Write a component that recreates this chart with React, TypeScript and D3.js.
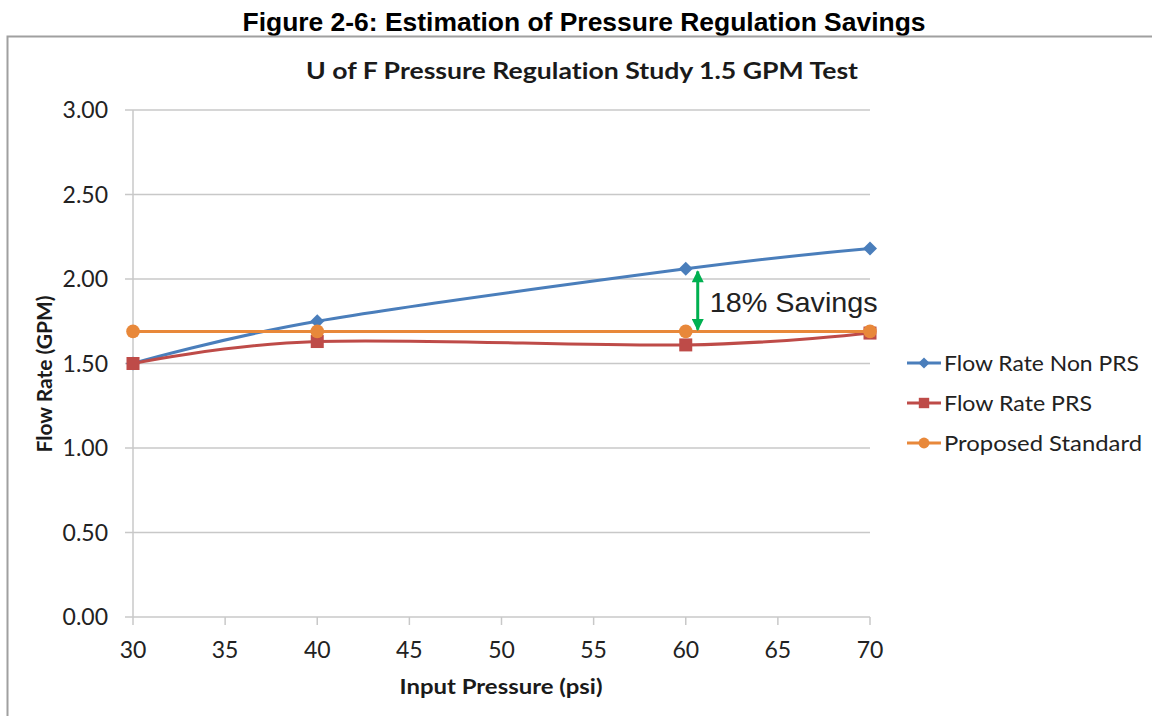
import React from "react";
import * as d3 from "d3";

const pressures = [30, 40, 60, 70];
const flowNonPRS = [1.5, 1.75, 2.06, 2.18];
const flowPRS = [1.5, 1.63, 1.61, 1.68];
const proposedStandard = [1.69, 1.69, 1.69, 1.69];
const seriesNames = ["Flow Rate Non PRS", "Flow Rate PRS", "Proposed Standard"];
const seriesColors = ["#4A7EBB", "#BE4B48", "#E8883A"];
const xTicks = [30, 35, 40, 45, 50, 55, 60, 65, 70];
const yTicks = [0, 0.5, 1, 1.5, 2, 2.5, 3];
const savingsArrow = { x: 60.65, from: 2.045, to: 1.7, label: "18% Savings" };

const W = 1152;
const H = 716;
const left = 133;
const right = 870;
const top = 110;
const bottom = 617;
const calibri = "Lato, 'Open Sans', sans-serif";
const legendWidths = [195, 148, 198];

export default function App() {
  const x = d3.scaleLinear().domain([30, 70]).range([left, right]);
  const y = d3.scaleLinear().domain([0, 3]).range([bottom, top]);
  const line = d3
    .line<number>()
    .x((_, i) => x(pressures[i]))
    .y((d) => y(d))
    .curve(d3.curveCardinal.tension(0));

  const data = [flowNonPRS, flowPRS, proposedStandard];

  const marker = (k: number, cx: number, cy: number, key: string, s = 1) => {
    const c = seriesColors[k];
    if (k === 0) {
      const r = 7 * s;
      return (
        <path
          key={key}
          d={`M${cx},${cy - r}L${cx + r},${cy}L${cx},${cy + r}L${cx - r},${cy}Z`}
          fill={c}
        />
      );
    }
    if (k === 1) {
      const r = 6.5 * s;
      return <rect key={key} x={cx - r} y={cy - r} width={2 * r} height={2 * r} fill={c} />;
    }
    return <circle key={key} cx={cx} cy={cy} r={6.8 * s} fill={c} />;
  };

  const legendY = [363, 403, 443];
  const textStyle = { fontVariantLigatures: "none" as const };

  return (
    <svg
      width={W}
      height={H}
      style={{ position: "absolute", left: 0, top: 0, background: "#fff" }}
    >
      <defs>
        <marker
          id="arrowHead"
          viewBox="0 0 10 10"
          refX="9"
          refY="5"
          markerWidth="4.3"
          markerHeight="4"
          orient="auto-start-reverse"
          markerUnits="strokeWidth"
        >
          <path d="M0,0L10,5L0,10Z" fill="#00B050" />
        </marker>
      </defs>
      <text
        x={584}
        y={31}
        textAnchor="middle"
        fontFamily="'Liberation Sans', Arial, sans-serif"
        fontWeight="bold"
        fontSize={25}
        textLength={683}
        lengthAdjust="spacingAndGlyphs"
        fill="#000"
      >
        Figure 2-6: Estimation of Pressure Regulation Savings
      </text>
      {/* chart frame */}
      <path d={`M7.5,${H}V36.5H${W}`} fill="none" stroke="#A0A0A0" strokeWidth={2} />

      <text
        x={582}
        y={79}
        textAnchor="middle"
        fontFamily={calibri}
        fontWeight="bold"
        fontSize={23}
        textLength={552}
        lengthAdjust="spacingAndGlyphs"
        fill="#1a1a1a"
        style={textStyle}
      >
        U of F Pressure Regulation Study 1.5 GPM Test
      </text>

      {/* gridlines */}
      {yTicks.map((t) => (
        <line
          key={"g" + t}
          x1={left - 8}
          x2={right}
          y1={y(t)}
          y2={y(t)}
          stroke="#C8C8C8"
          strokeWidth={1.5}
        />
      ))}
      <line x1={left} x2={left} y1={top} y2={bottom} stroke="#C8C8C8" strokeWidth={1.5} />
      {xTicks.map((t) => (
        <line
          key={"xt" + t}
          x1={x(t)}
          x2={x(t)}
          y1={bottom}
          y2={bottom + 8}
          stroke="#C8C8C8"
          strokeWidth={1.5}
        />
      ))}
      {yTicks.map((t) => (
        <text
          key={"yl" + t}
          x={108}
          y={y(t) + 8}
          textAnchor="end"
          fontFamily={calibri}
          fontSize={23}
          fill="#222"
        >
          {t.toFixed(2)}
        </text>
      ))}
      {xTicks.map((t) => (
        <text
          key={"xl" + t}
          x={x(t)}
          y={658}
          textAnchor="middle"
          fontFamily={calibri}
          fontSize={23}
          fill="#222"
        >
          {t}
        </text>
      ))}
      <text
        x={501}
        y={694}
        textAnchor="middle"
        fontFamily={calibri}
        fontWeight="bold"
        fontSize={20}
        textLength={203}
        lengthAdjust="spacingAndGlyphs"
        fill="#1a1a1a"
      >
        Input Pressure (psi)
      </text>
      <text
        transform={`translate(52,374) rotate(-90)`}
        textAnchor="middle"
        fontFamily={calibri}
        fontWeight="bold"
        fontSize={20}
        textLength={157}
        lengthAdjust="spacingAndGlyphs"
        fill="#1a1a1a"
      >
        Flow Rate (GPM)
      </text>

      {/* series */}
      {[0, 1, 2].map((k) => (
        <g key={"s" + k}>
          <path d={line(data[k]) || ""} fill="none" stroke={seriesColors[k]} strokeWidth={3} />
          {data[k].map((v, i) => marker(k, x(pressures[i]), y(v), `m${k}-${i}`))}
        </g>
      ))}

      {/* annotation */}
      <line
        x1={x(savingsArrow.x)}
        x2={x(savingsArrow.x)}
        y1={y(savingsArrow.from)}
        y2={y(savingsArrow.to)}
        stroke="#00B050"
        strokeWidth={3}
        markerStart="url(#arrowHead)"
        markerEnd="url(#arrowHead)"
      />
      <text
        x={x(savingsArrow.x) + 12}
        y={312}
        fontFamily="'Liberation Sans', Arial, sans-serif"
        fontSize={28}
        textLength={168}
        lengthAdjust="spacingAndGlyphs"
        fill="#222"
      >
        {savingsArrow.label}
      </text>

      {/* legend */}
      {seriesNames.map((n, k) => (
        <g key={"l" + k}>
          <line
            x1={907}
            x2={941}
            y1={legendY[k]}
            y2={legendY[k]}
            stroke={seriesColors[k]}
            strokeWidth={3}
          />
          {marker(k, 924, legendY[k], "lm" + k, 0.8)}
          <text
            x={944}
            y={legendY[k] + 8}
            fontFamily={calibri}
            fontSize={22}
            textLength={legendWidths[k]}
            lengthAdjust="spacingAndGlyphs"
            fill="#222"
          >
            {n}
          </text>
        </g>
      ))}
    </svg>
  );
}
